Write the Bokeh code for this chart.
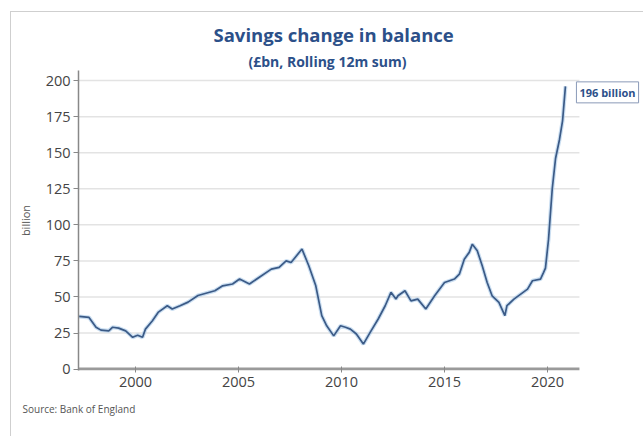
from bokeh.plotting import figure
from bokeh.models import Label, Range1d, FixedTicker, Title
from bokeh.embed import file_html
from bokeh.resources import INLINE

# Savings change in balance, £bn, rolling 12m sum
years = [1997.26, 1997.74, 1998.08, 1998.32, 1998.70, 1998.89, 1999.18, 1999.52, 1999.86,
         2000.10, 2000.34, 2000.48, 2000.82, 2001.11, 2001.54, 2001.78, 2002.16, 2002.55,
         2003.03, 2003.85, 2004.23, 2004.71, 2005.05, 2005.53, 2006.01, 2006.59, 2006.97,
         2007.31, 2007.55, 2008.08, 2008.41, 2008.75, 2009.04, 2009.28, 2009.62, 2009.95,
         2010.19, 2010.43, 2010.72, 2011.06, 2011.39, 2011.78, 2012.12, 2012.40, 2012.64,
         2012.74, 2013.08, 2013.37, 2013.70, 2014.09, 2014.52, 2015.00, 2015.48, 2015.72,
         2015.96, 2016.20, 2016.35, 2016.59, 2016.83, 2017.07, 2017.31, 2017.64, 2017.93,
         2018.03, 2018.37, 2019.03, 2019.27, 2019.66, 2019.81, 2019.90, 2020.05, 2020.23,
         2020.39, 2020.58, 2020.73, 2020.87]
values = [36.5, 35.8, 29.0, 27.0, 26.5, 29.0, 28.4, 26.5, 22.0,
          23.5, 22.0, 27.7, 33.5, 39.5, 43.9, 41.6, 43.9, 46.4,
          51.0, 54.3, 57.7, 59.0, 62.4, 59.0, 63.7, 69.3, 70.5,
          75.0, 73.9, 83.2, 71.6, 57.7, 37.0, 30.0, 23.0, 30.0,
          29.0, 27.7, 24.3, 17.3, 25.4, 34.7, 43.9, 53.2, 48.5,
          50.8, 54.3, 47.3, 48.5, 41.6, 50.8, 60.0, 62.4, 65.8,
          76.2, 80.9, 86.6, 82.0, 71.6, 60.0, 50.8, 46.2, 37.0,
          43.9, 48.5, 55.4, 61.2, 62.4, 67.0, 70.0, 90.0, 125.0,
          146.0, 159.0, 172.0, 196.0]
x_ticks = [2000, 2005, 2010, 2015, 2020]
y_ticks = [0, 25, 50, 75, 100, 125, 150, 175, 200]

title_text = "Savings change in balance"
subtitle_text = "(£bn, Rolling 12m sum)"
source_text = "Source: Bank of England"
y_label = "billion"

FONT = "Open Sans"
BLUE = "#2c5089"
X0, X_AXIS_END, X1 = 1997.23, 2021.55, 2024.66
Y0, Y1 = -1.0, 207

frame_css = {
    "background-color": "white",
    "background-image": "linear-gradient(#cfcfcf,#cfcfcf), linear-gradient(#cfcfcf,#cfcfcf)",
    "background-size": "1px 100%, 100% 1px",
    "background-position": "10px 11px, 10px 11px",
    "background-repeat": "no-repeat",
}

p = figure(width=643, height=436, output_backend="svg", toolbar_location=None,
           x_range=Range1d(X0, X1), y_range=Range1d(Y0, Y1),
           min_border_left=78, min_border_right=0, min_border_top=70, min_border_bottom=66,
           styles=frame_css)
p.outline_line_color = None
p.background_fill_color = None
p.border_fill_color = None

# grid lines (ending at the axis end) and x axis line
grid_y = y_ticks[1:]
p.segment(x0=[X0] * len(grid_y), y0=grid_y, x1=[X_AXIS_END] * len(grid_y), y1=grid_y,
          line_color="#e3e3e3", line_width=1.5)
p.segment(x0=[X0], y0=[0], x1=[X_AXIS_END], y1=[0], line_color="#9a9a9a", line_width=3)

# glow + line
p.line(years, values, line_color="#a6c8e8", line_width=4, line_alpha=0.6)
p.line(years, values, line_color="#3b5a86", line_width=1.7)

# axes
p.xaxis.ticker = FixedTicker(ticks=x_ticks)
p.yaxis.ticker = FixedTicker(ticks=y_ticks)
for ax in (p.xaxis[0], p.yaxis[0]):
    ax.major_label_text_font = FONT
    ax.major_label_text_font_size = "14.5px"
    ax.major_label_text_color = "#444444"
    ax.minor_tick_line_color = None
    ax.major_tick_line_color = "#888888"
p.xaxis.axis_line_color = None
p.xaxis.major_tick_in = 4
p.xaxis.major_tick_out = 2
p.xaxis.major_label_standoff = 4
p.yaxis.axis_line_color = "#888888"
p.yaxis.axis_line_width = 1.5
p.yaxis.major_tick_in = 0
p.yaxis.major_tick_out = 5
p.yaxis.major_label_standoff = 3
p.yaxis.axis_label = y_label
p.yaxis.axis_label_text_font = FONT
p.yaxis.axis_label_text_font_style = "normal"
p.yaxis.axis_label_text_font_size = "11px"
p.yaxis.axis_label_text_color = "#555555"
p.yaxis.axis_label_standoff = 10

p.xgrid.grid_line_color = None
p.ygrid.grid_line_color = None

# titles (subtitle first: it sits nearer the frame)
p.add_layout(Title(text=subtitle_text, align="left", text_font=FONT, text_font_style="bold",
                   text_font_size="14px", text_color=BLUE, standoff=0, offset=170), "above")
p.add_layout(Title(text=title_text, align="left", text_font=FONT, text_font_style="bold",
                   text_font_size="18.5px", text_color=BLUE, standoff=5, offset=135), "above")
p.add_layout(Title(text=source_text, align="left", text_font=FONT, text_font_style="normal",
                   text_font_size="10px", text_color="#555555", offset=-56, standoff=20), "below")

# end annotation
p.add_layout(Label(x=years[-1], y=values[-1], x_offset=11, y_offset=-6,
                   text=f"{values[-1]:.0f} billion", text_font=FONT, text_font_style="bold",
                   text_font_size="11px", text_color=BLUE, text_align="left",
                   text_baseline="middle", border_line_color="#8a9ab8",
                   background_fill_color="white", padding=3))

open("out.html", "w").write(file_html(p, INLINE))
